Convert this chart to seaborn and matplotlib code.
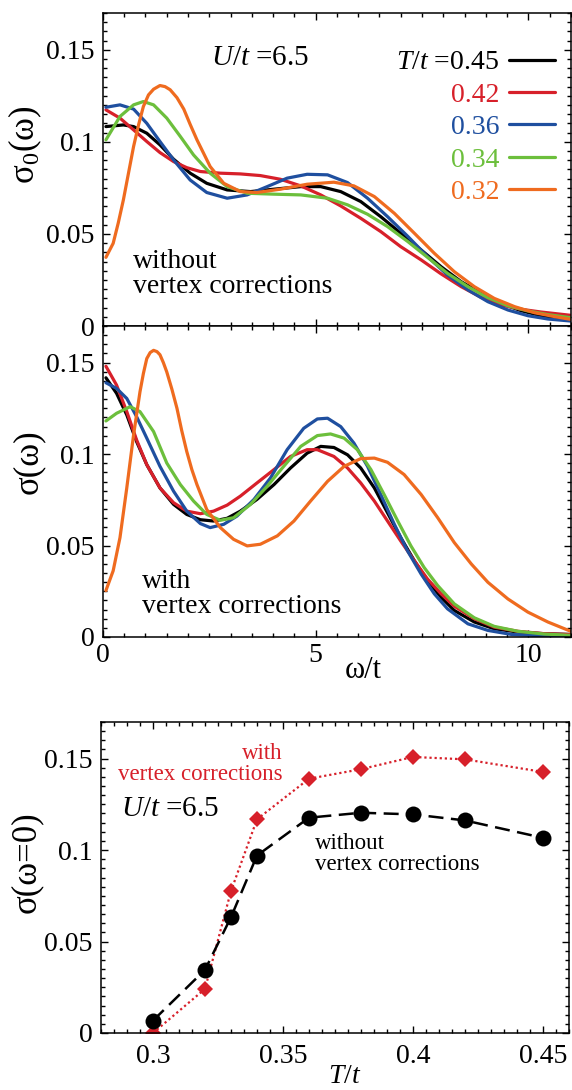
import numpy as np
import pandas as pd
import matplotlib
matplotlib.use("Agg")
import matplotlib.pyplot as plt
from matplotlib.ticker import MultipleLocator, FuncFormatter
from matplotlib.lines import Line2D
import seaborn as sns

# ---------------- data ----------------
temps = ["0.45", "0.42", "0.36", "0.34", "0.32"]
colors = ["#000000", "#d7202a", "#1f4f9f", "#6cbf3c", "#ef6b1f"]

# sigma_0(omega): without vertex corrections
w0_045 = [0.07, 0.48, 0.72, 1.03, 1.34, 1.66, 2.05, 2.44, 2.92, 3.47, 4.02, 4.65, 5.12, 5.59, 6.06, 6.53, 7.0, 7.48, 7.95, 8.42, 8.89, 9.36, 9.83, 10.3, 11.0]
s0_045 = [0.1083, 0.1092, 0.1083, 0.1047, 0.0984, 0.0906, 0.083, 0.0775, 0.0739, 0.073, 0.0743, 0.0757, 0.0757, 0.073, 0.0676, 0.0594, 0.0504, 0.0413, 0.0322, 0.0241, 0.0178, 0.0123, 0.0083, 0.0056, 0.0033]
w0_042 = [0.07, 0.40, 0.72, 1.03, 1.34, 1.66, 1.97, 2.29, 2.76, 3.23, 3.70, 4.17, 4.65, 5.12, 5.59, 6.06, 6.53, 7.0, 7.48, 7.95, 8.42, 8.89, 9.36, 9.83, 10.3, 11.0]
s0_042 = [0.1174, 0.1129, 0.1065, 0.1002, 0.0942, 0.0893, 0.086, 0.0839, 0.083, 0.0826, 0.0817, 0.0797, 0.0761, 0.0712, 0.0652, 0.0585, 0.0513, 0.0431, 0.0359, 0.0283, 0.0214, 0.0156, 0.0114, 0.0091, 0.0076, 0.0058]
w0_036 = [0.07, 0.40, 0.72, 1.03, 1.34, 1.66, 2.05, 2.44, 2.92, 3.39, 3.86, 4.33, 4.80, 5.28, 5.75, 6.22, 6.69, 7.17, 7.63, 8.1, 8.58, 9.05, 9.52, 9.99, 10.46, 11.0]
s0_036 = [0.1188, 0.1201, 0.1178, 0.1101, 0.1002, 0.0902, 0.0793, 0.0725, 0.0694, 0.0712, 0.0757, 0.0803, 0.0824, 0.0821, 0.0779, 0.0694, 0.0594, 0.0486, 0.0377, 0.0277, 0.0196, 0.0132, 0.0087, 0.0056, 0.0038, 0.0027]
w0_034 = [0.07, 0.40, 0.72, 0.95, 1.19, 1.50, 1.82, 2.13, 2.52, 2.92, 3.39, 4.02, 4.65, 5.28, 5.75, 6.22, 6.69, 7.17, 7.63, 8.1, 8.58, 9.05, 9.52, 9.99, 10.46, 11.0]
s0_034 = [0.1011, 0.1138, 0.1201, 0.1219, 0.1201, 0.1129, 0.1029, 0.0929, 0.083, 0.0757, 0.0721, 0.0716, 0.0712, 0.0694, 0.0658, 0.0607, 0.054, 0.0458, 0.0373, 0.0286, 0.0214, 0.0154, 0.011, 0.0082, 0.0062, 0.0045]
w0_032 = [0.07, 0.24, 0.36, 0.48, 0.60, 0.72, 0.84, 0.95, 1.07, 1.19, 1.34, 1.46, 1.58, 1.74, 1.90, 2.05, 2.21, 2.52, 2.84, 3.23, 3.62, 4.17, 4.80, 5.43, 5.90, 6.38, 6.85, 7.32, 7.79, 8.26, 8.73, 9.2, 9.68, 10.15, 10.62, 11.0]
s0_032 = [0.0373, 0.0449, 0.0560, 0.0685, 0.0830, 0.0975, 0.1095, 0.1192, 0.1255, 0.1286, 0.1306, 0.1300, 0.1283, 0.1240, 0.1178, 0.1095, 0.1011, 0.0866, 0.0775, 0.073, 0.0725, 0.0743, 0.077, 0.0781, 0.0761, 0.0703, 0.0612, 0.0504, 0.0395, 0.0295, 0.0214, 0.015, 0.0105, 0.0072, 0.0051, 0.0036]

# sigma(omega): with vertex corrections
w1_045 = [0.07, 0.32, 0.56, 0.79, 1.03, 1.34, 1.66, 1.97, 2.29, 2.60, 2.92, 3.23, 3.62, 4.02, 4.41, 4.80, 5.12, 5.43, 5.75, 6.06, 6.38, 6.69, 7.0, 7.32, 7.63, 7.95, 8.26, 8.73, 9.2, 9.76, 10.38, 11.0]
s1_045 = [0.1417, 0.1332, 0.1214, 0.1069, 0.0942, 0.0815, 0.0725, 0.067, 0.0641, 0.0634, 0.0649, 0.0688, 0.0752, 0.0833, 0.0924, 0.1005, 0.1042, 0.1036, 0.0996, 0.0924, 0.0815, 0.0679, 0.0543, 0.0417, 0.0308, 0.0217, 0.0145, 0.0082, 0.0045, 0.0027, 0.0018, 0.0014]
w1_042 = [0.07, 0.32, 0.56, 0.79, 1.03, 1.34, 1.66, 1.97, 2.29, 2.60, 2.92, 3.23, 3.62, 4.02, 4.41, 4.80, 5.04, 5.43, 5.75, 6.06, 6.38, 6.69, 7.0, 7.32, 7.63, 7.95, 8.26, 8.73, 9.2, 9.76, 10.38, 11.0]
s1_042 = [0.148, 0.1377, 0.1232, 0.1078, 0.0942, 0.0815, 0.0734, 0.0688, 0.0674, 0.0688, 0.0721, 0.077, 0.0842, 0.0915, 0.0987, 0.1024, 0.1024, 0.0987, 0.0924, 0.0842, 0.0743, 0.0634, 0.0525, 0.0417, 0.0317, 0.0236, 0.0168, 0.01, 0.0054, 0.0031, 0.0018, 0.0013]
w1_036 = [0.07, 0.32, 0.56, 0.79, 1.03, 1.34, 1.66, 1.97, 2.29, 2.52, 2.84, 3.15, 3.55, 3.94, 4.33, 4.72, 5.04, 5.28, 5.59, 5.90, 6.22, 6.53, 6.85, 7.16, 7.48, 7.79, 8.1, 8.58, 9.05, 9.6, 10.3, 11.0]
s1_036 = [0.139, 0.1359, 0.1304, 0.1205, 0.1087, 0.0933, 0.0797, 0.0688, 0.062, 0.0598, 0.0616, 0.0661, 0.0752, 0.087, 0.1024, 0.1141, 0.1192, 0.1196, 0.115, 0.106, 0.0933, 0.0779, 0.0616, 0.0471, 0.0344, 0.0236, 0.0154, 0.0072, 0.0036, 0.0014, 0.0007, 0.0004]
w1_034 = [0.07, 0.32, 0.64, 0.87, 1.19, 1.50, 1.82, 2.13, 2.44, 2.76, 3.07, 3.47, 3.86, 4.25, 4.65, 5.04, 5.35, 5.67, 5.98, 6.30, 6.61, 6.93, 7.24, 7.55, 7.87, 8.26, 8.73, 9.2, 9.76, 10.38, 11.0]
s1_034 = [0.1181, 0.1223, 0.1259, 0.1232, 0.1123, 0.0951, 0.0833, 0.0743, 0.067, 0.0638, 0.0652, 0.0725, 0.0824, 0.0933, 0.1042, 0.1101, 0.111, 0.1087, 0.1024, 0.0915, 0.0779, 0.0634, 0.0498, 0.038, 0.0281, 0.0181, 0.0105, 0.0058, 0.0031, 0.0016, 0.0009]
w1_032 = [0.07, 0.24, 0.40, 0.56, 0.72, 0.87, 0.95, 1.03, 1.11, 1.19, 1.27, 1.34, 1.42, 1.50, 1.62, 1.74, 1.85, 1.97, 2.09, 2.21, 2.44, 2.76, 3.07, 3.39, 3.70, 4.10, 4.49, 4.88, 5.28, 5.67, 6.06, 6.38, 6.69, 7.08, 7.48, 7.87, 8.26, 8.66, 9.05, 9.52, 9.99, 10.46, 11.0]
s1_032 = [0.0254, 0.0362, 0.0543, 0.0815, 0.1105, 0.134, 0.1440, 0.1522, 0.1555, 0.1567, 0.1560, 0.1543, 0.1500, 0.1449, 0.1355, 0.125, 0.1130, 0.1014, 0.0915, 0.0833, 0.0697, 0.0598, 0.0534, 0.0498, 0.0507, 0.0553, 0.0634, 0.0743, 0.0851, 0.0933, 0.0975, 0.0978, 0.0955, 0.0888, 0.0779, 0.0652, 0.0516, 0.0399, 0.0299, 0.0208, 0.0136, 0.0082, 0.0031]

# sigma(omega=0) vs T
T_vals = [0.30, 0.32, 0.33, 0.34, 0.36, 0.38, 0.40, 0.42, 0.45]
dc_without = [0.0068, 0.0345, 0.0633, 0.097, 0.1177, 0.1204, 0.1195, 0.1162, 0.1067]
dc_with = [0.0, 0.0241, 0.0776, 0.1168, 0.139, 0.1442, 0.1509, 0.1496, 0.1427]

top_series = [(w0_045, s0_045), (w0_042, s0_042), (w0_036, s0_036), (w0_034, s0_034), (w0_032, s0_032)]
mid_series = [(w1_045, s1_045), (w1_042, s1_042), (w1_036, s1_036), (w1_034, s1_034), (w1_032, s1_032)]

# ---------------- style ----------------
sns.set_theme(style="ticks")
plt.rcParams.update({
    "font.family": ["Liberation Serif", "DejaVu Serif"],
    "mathtext.fontset": "custom",
    "mathtext.rm": "Liberation Serif",
    "mathtext.it": "Liberation Serif:italic",
    "mathtext.bf": "Liberation Serif:bold",
    "axes.linewidth": 1.1,
    "axes.edgecolor": "black",
    "text.color": "black",
    "axes.labelcolor": "black",
    "xtick.color": "black",
    "ytick.color": "black",
    "lines.solid_capstyle": "round",
    "lines.solid_joinstyle": "round",
})

fig = plt.figure(figsize=(5.72, 10.90), dpi=100)
ax1 = fig.add_axes([0.180, 0.7009, 0.818, 0.2872])
ax2 = fig.add_axes([0.180, 0.4156, 0.818, 0.2853])
ax3 = fig.add_axes([0.1766, 0.0523, 0.818, 0.2853])

fmt = FuncFormatter(lambda v, p: f"{v:g}")


def style_axes(ax, xmaj, xmin, ymaj, ymin, xpad, ypad):
    ax.xaxis.set_major_locator(MultipleLocator(xmaj))
    ax.xaxis.set_minor_locator(MultipleLocator(xmin))
    ax.yaxis.set_major_locator(MultipleLocator(ymaj))
    ax.yaxis.set_minor_locator(MultipleLocator(ymin))
    ax.xaxis.set_major_formatter(fmt)
    ax.yaxis.set_major_formatter(fmt)
    ax.tick_params(which="both", direction="in", top=True, right=True, width=1.0)
    ax.tick_params(which="major", length=5)
    ax.tick_params(which="minor", length=3)
    ax.tick_params(axis="x", which="major", labelsize=20, pad=xpad)
    ax.tick_params(axis="y", which="major", labelsize=20, pad=ypad)
    for s in ax.spines.values():
        s.set_visible(True)
        s.set_linewidth(1.1)


for ax, series in ((ax1, top_series), (ax2, mid_series)):
    for (w, s), c in zip(series, colors):
        sns.lineplot(x=w, y=s, ax=ax, color=c, lw=2.3, sort=False, estimator=None)
    ax.set_xlim(0, 11)
    ax.set_ylim(0, 0.17)
    style_axes(ax, 5, 0.5, 0.05, 0.005, 4, 6)

ax1.tick_params(axis="x", labelbottom=False)
ax1.set_xlabel("")
ax1.set_ylabel("σ$_0$(ω)", fontsize=25)
ax1.yaxis.set_label_coords(-0.125, 0.578)
ax2.set_ylabel("σ(ω)", fontsize=25)
ax2.yaxis.set_label_coords(-0.125, 0.563)
ax2.set_xlabel("ω/t", fontsize=22, labelpad=0)
ax2.xaxis.set_label_coords(0.556, -0.06)
ax2.xaxis.label.set_va("top")

# annotations top / middle
ax1.text(0.335, 0.856, "$U/t$ =6.5", transform=ax1.transAxes, fontsize=21,
         ha="center", va="center")
ax1.text(0.064, 0.105, "without\nvertex corrections", transform=ax1.transAxes,
         fontsize=20, ha="left", va="baseline", linespacing=1.0)
ax2.text(0.083, 0.077, "with\nvertex corrections", transform=ax2.transAxes,
         fontsize=20, ha="left", va="baseline", linespacing=1.0)

handles = [Line2D([], [], color=c, lw=2.3) for c in colors]
labels = ["$T/t$ =" + temps[0]] + temps[1:]
ax1.legend(handles, labels, loc="upper right", bbox_to_anchor=(0.966, 0.882),
           frameon=False, markerfirst=False, labelcolor="linecolor", fontsize=20,
           handlelength=1.65, handletextpad=0.35, labelspacing=0.25,
           borderpad=0, borderaxespad=0)

# ---------------- bottom panel ----------------
sns.lineplot(x=T_vals, y=dc_with, ax=ax3, color="#d7202a", lw=1.6,
             linestyle=(0, (1, 1.3)), marker="D", markersize=8.6,
             markeredgewidth=0, sort=False, estimator=None)
sns.lineplot(x=T_vals, y=dc_without, ax=ax3, color="black", lw=1.8,
             linestyle=(0, (6, 3)), marker="o", markersize=11.5,
             markeredgewidth=0, sort=False, estimator=None)
ax3.set_xlim(0.28, 0.46)
ax3.set_ylim(0, 0.17)
style_axes(ax3, 0.05, 0.005, 0.05, 0.005, 8, 6)
ax3.set_ylabel("σ(ω=0)", fontsize=25)
ax3.yaxis.set_label_coords(-0.125, 0.55)
ax3.set_xlabel("$T/t$", fontsize=20)
ax3.xaxis.set_label_coords(0.52, -0.161)
ax3.xaxis.label.set_va("baseline")

ax3.text(0.389, 0.813, "with\nvertex corrections", transform=ax3.transAxes,
         fontsize=16.5, color="#d7202a", ha="right", va="baseline", linespacing=1.0,
         multialignment="right")
ax3.text(0.043, 0.72, "$U/t$ =6.5", transform=ax3.transAxes, fontsize=21,
         ha="left", va="center")
ax3.text(0.457, 0.524, "without\nvertex corrections", transform=ax3.transAxes,
         fontsize=16.5, ha="left", va="baseline", linespacing=1.0)

fig.savefig("out.png", dpi=100, facecolor="white")
